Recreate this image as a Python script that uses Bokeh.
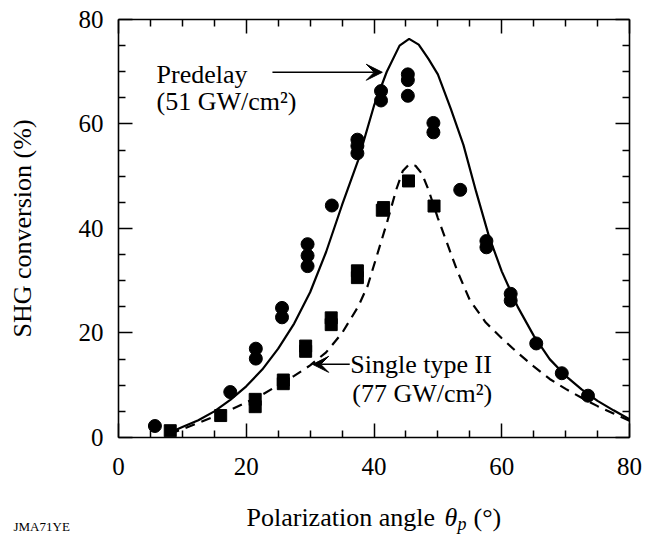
from bokeh.plotting import figure
from bokeh.models import Range1d, FixedTicker, LinearAxis, Label, Arrow, VeeHead
from bokeh.embed import file_html
from bokeh.resources import INLINE

# ---------------- data ----------------
# Predelay measurements (circles)
circ_angle = [5.7, 17.5, 21.5, 21.5, 25.6, 25.6, 29.6, 29.6, 29.6, 33.4,
              37.4, 37.4, 37.4, 41.1, 41.1, 45.3, 45.3, 45.3, 49.3, 49.3,
              53.5, 57.6, 57.6, 61.4, 61.4, 65.4, 69.4, 73.5]
circ_conv = [2.2, 8.7, 15.1, 17.0, 23.0, 24.8, 32.8, 34.8, 37.0, 44.4,
             54.4, 55.8, 57.0, 64.5, 66.3, 65.4, 68.4, 69.5, 58.4, 60.2,
             47.4, 36.4, 37.6, 26.2, 27.5, 18.0, 12.3, 8.0]

# Single type II measurements (squares)
sq_angle = [8.1, 16.0, 21.4, 21.4, 25.8, 25.8, 29.3, 29.3, 33.3, 33.3,
            37.4, 37.4, 41.3, 41.5, 45.4, 49.4]
sq_conv = [1.3, 4.2, 5.9, 7.3, 10.3, 11.0, 16.5, 17.5, 21.6, 22.9,
           30.6, 31.9, 43.5, 44.0, 49.1, 44.3]

# Predelay model curve (solid)
pre_angle = [8.5, 10, 12.5, 15, 17.5, 20, 22.5, 25, 27.5, 30, 32.5, 35, 37.5,
             40, 42, 44, 45.5, 47, 48.5, 50, 52, 54, 56, 58, 60, 62.5, 65,
             67.5, 70, 72.5, 75, 77.5, 80]
pre_conv = [1.2, 2.0, 3.3, 5.0, 7.2, 9.8, 13.0, 17.0, 21.8, 27.8, 35.5, 44.5,
            53.0, 63.5, 70.0, 75.0, 76.3, 75.2, 72.5, 69.5, 63.0, 56.0, 47.0,
            38.5, 31.8, 25.0, 19.5, 15.0, 11.8, 9.2, 7.0, 5.2, 3.5]

# Single type II model curve (dashed)
single_angle = [8, 10, 12.5, 15, 17.5, 20, 22.5, 25, 27.5, 30, 32.5, 35, 37.5,
                39, 40.5, 42, 43.5, 44.5, 45.5, 46.5, 47.5, 48.5, 50, 51.5, 53,
                55, 57.5, 60, 62.5, 65, 67.5, 70, 72.5, 75, 77.5, 80]
single_conv = [0.7, 1.6, 2.8, 4.0, 5.3, 6.7, 8.2, 10.0, 11.8, 13.8, 16.3, 20.0,
               25.0, 29.0, 35.0, 41.0, 47.5, 51.0, 52.3, 52.0, 50.5, 47.5, 42.0,
               37.0, 32.0, 26.3, 22.0, 19.0, 16.2, 13.6, 11.2, 9.3, 7.6, 6.0,
               4.6, 3.2]

x_ticks = [0, 20, 40, 60, 80]
y_ticks = [0, 20, 40, 60, 80]
minor_ticks = [5, 10, 15, 25, 30, 35, 45, 50, 55, 65, 70, 75]
axis_min, axis_max = 0, 80

FONT = "Liberation Serif"

# The frame fills the whole canvas; the visible box is drawn by axes
# pinned at 0 and 80 so that texts outside the box stay visible.
W, H = 647, 535
p = figure(width=W, height=H,
           x_range=Range1d(-18.474, 82.818), y_range=Range1d(-18.756, 83.636),
           output_backend="svg", toolbar_location=None, tools="",
           min_border=0, x_axis_location=None, y_axis_location=None)
p.grid.visible = False
p.outline_line_color = None
p.background_fill_color = "white"
p.border_fill_color = "white"


def base_axis(ax, ticks, minors, tick_len, line):
    ax.ticker = FixedTicker(ticks=ticks, minor_ticks=minors)
    ax.major_tick_in = 14
    ax.major_tick_out = 0
    ax.minor_tick_in = tick_len
    ax.minor_tick_out = 0
    ax.axis_line_color = "black" if line else None
    ax.axis_line_width = 1.6
    ax.major_tick_line_color = "black"
    ax.major_tick_line_width = 1.5
    ax.minor_tick_line_color = "black"
    ax.minor_tick_line_width = 1.5
    ax.major_label_text_font = FONT
    ax.major_label_text_font_size = "25px"
    ax.major_label_text_color = "black"


# labelled axes (bottom, left)
bottom_axis = LinearAxis(fixed_location=axis_min, bounds=(axis_min, axis_max))
left_axis = LinearAxis(fixed_location=axis_min, bounds=(axis_min, axis_max))
base_axis(bottom_axis, x_ticks, minor_ticks, 7, True)
base_axis(left_axis, y_ticks, minor_ticks, 7, True)
bottom_axis.major_label_standoff = 21
left_axis.major_label_standoff = 15
p.add_layout(bottom_axis, "below")
p.add_layout(left_axis, "left")

left_axis.axis_label = "SHG conversion (%)"
left_axis.axis_label_text_font = FONT
left_axis.axis_label_text_font_size = "26px"
left_axis.axis_label_text_font_style = "normal"
left_axis.axis_label_text_color = "black"
left_axis.axis_label_standoff = 39

# unlabelled mirror axes (top, right): short ticks + long ticks, no texts
for place in ("above", "right"):
    short_ax = LinearAxis(fixed_location=axis_max, bounds=(axis_min, axis_max))
    long_ax = LinearAxis(fixed_location=axis_max, bounds=(axis_min, axis_max))
    base_axis(short_ax, [], minor_ticks, 7, True)
    base_axis(long_ax, [], x_ticks, 14, False)
    p.add_layout(short_ax, place)
    p.add_layout(long_ax, place)

# curves
p.line(pre_angle, pre_conv, line_color="black", line_width=2.2)
p.line(single_angle, single_conv, line_color="black", line_width=2.2,
       line_dash="10 7")

# measured points
p.scatter(circ_angle, circ_conv, marker="circle", size=13,
          fill_color="black", line_color="black")
p.scatter(sq_angle, sq_conv, marker="square", size=12,
          fill_color="black", line_color="black")


def add_text(x, y, txt, size="26px", style="normal"):
    # y is the vertical middle of the text
    p.add_layout(Label(x=x, y=y, text=txt, text_font=FONT,
                       text_font_size=size, text_font_style=style,
                       text_color="black", text_baseline="middle",
                       text_align="left"))


add_text(5.95, 69.4, "Predelay")
add_text(5.95, 64.4, "(51 GW/cm²)")
add_text(36.3, 13.88, "Single type II")
add_text(36.6, 8.44, "(77 GW/cm²)")

p.add_layout(Arrow(end=VeeHead(size=16, fill_color="black", line_color="black"),
                   x_start=24.1, y_start=69.9, x_end=41.3, y_end=69.9,
                   line_color="black", line_width=1.5))
p.add_layout(Arrow(end=VeeHead(size=16, fill_color="black", line_color="black"),
                   x_start=36.2, y_start=14.0, x_end=30.4, y_end=14.0,
                   line_color="black", line_width=1.5))

# x axis title with italic theta and subscript p
add_text(20.04, -15.35, "Polarization angle")
add_text(51.04, -15.35, "θ", style="italic")
add_text(53.07, -16.55, "p", size="18px", style="italic")
add_text(55.58, -15.35, "(°)")

# figure id
add_text(-16.44, -16.95, "JMA71YE", size="13px")

open("out.html", "w").write(file_html(p, INLINE))
